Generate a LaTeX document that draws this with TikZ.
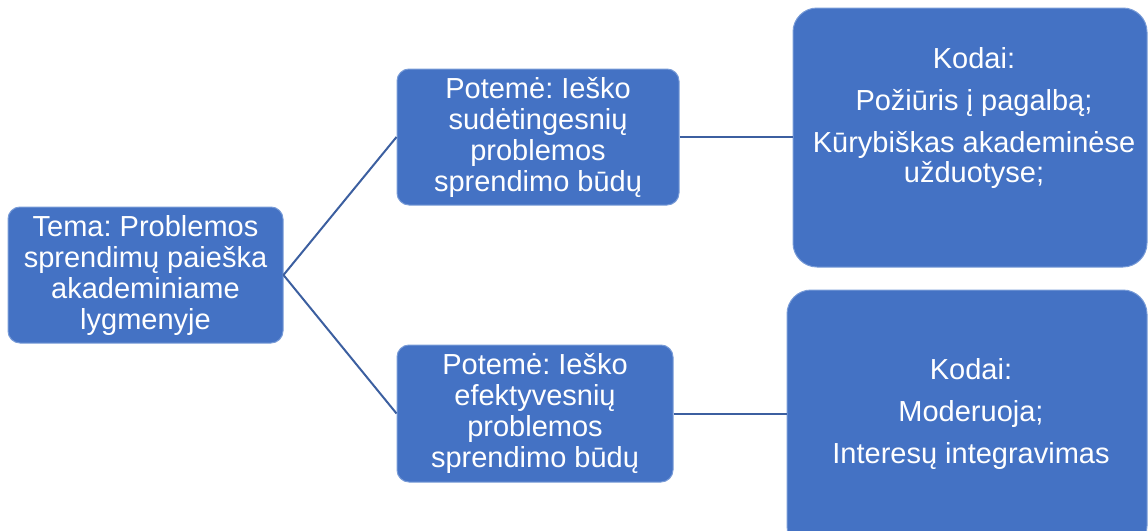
\documentclass[tikz,border=0pt]{standalone}
\usepackage{fontspec}
\setmainfont{Liberation Sans}
\frenchspacing
\definecolor{boxblue}{RGB}{68,114,196}
\definecolor{boxedge}{RGB}{120,155,215}
\definecolor{linkblue}{RGB}{60,95,160}
\begin{document}
\begin{tikzpicture}[x=1pt,y=-1pt,
  box/.style={draw=boxedge, line width=1pt, fill=boxblue, rounded corners=#1,
    inner sep=0pt, text=white, align=center,
    font=\fontsize{29}{31}\selectfont},
  box/.default=12pt,
  txt/.style={text=white, align=center, inner sep=0pt,
    font=\fontsize{29}{31}\selectfont},
  link/.style={draw=linkblue, line width=2pt}]
\useasboundingbox (0,0) rectangle (1148,530);
\clip (0,0) rectangle (1148,530);

% theme
\node[box, minimum width=275pt, minimum height=136pt] (tema) at (145.5,275)
  {Tema: Problemos\\sprendimų paieška\\akademiniame\\lygmenyje};

% sub-themes
\node[box, minimum width=282pt, minimum height=136pt] (p1) at (538,137)
  {Potemė: Ieško\\sudėtingesnių\\problemos\\sprendimo būdų};
\node[box, minimum width=276pt, minimum height=137pt] (p2) at (535,413.5)
  {Potemė: Ieško\\efektyvesnių\\problemos\\sprendimo būdų};

% code boxes
\node[box=24pt, minimum width=354pt, minimum height=259pt] (k1) at (970,137.5) {};
\node[txt] (k1t) at (974,118)
  {Kodai:\\[11pt]Požiūris į pagalbą;\\[11pt]Kūrybiškas akademinėse\\užduotyse;};
\node[box=24pt, minimum width=360pt, minimum height=260pt] (k2) at (967,420) {};
\node[txt] (k2t) at (971,414)
  {Kodai:\\[11pt]Moderuoja;\\[11pt]Interesų integravimas};

% connectors
\draw[link] (tema.east) -- (p1.west);
\draw[link] (tema.east) -- (p2.west);
\draw[link] (p1.east) -- (p1.east -| k1.west);
\draw[link] (p2.east) -- (p2.east -| k2.west);
\end{tikzpicture}
\end{document}
